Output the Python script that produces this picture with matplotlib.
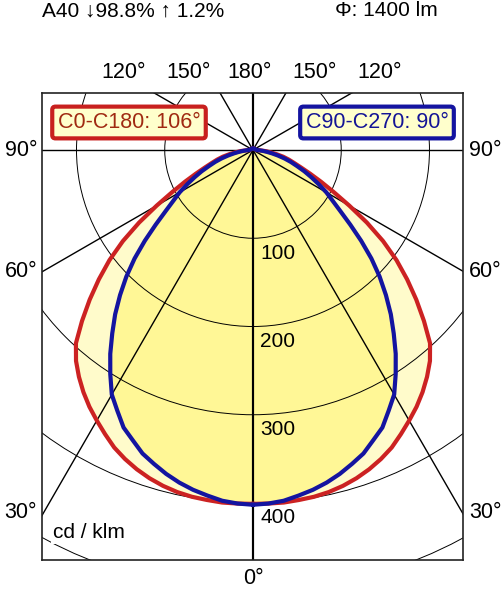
import numpy as np
import matplotlib.pyplot as plt
from matplotlib.patches import Circle

plt.rcParams['font.family'] = ['Liberation Sans', 'DejaVu Sans']

# luminous intensity, cd/klm
gamma = [0, 2.5, 5, 7.5, 10, 12.5, 15, 17.5, 20, 22.5, 25, 27.5, 30, 32.5, 35, 37.5, 40, 42.5,
         45, 47.5, 50, 52.5, 55, 57.5, 60, 62.5, 65, 67.5, 70, 72.5, 75, 77.5, 80, 82.5, 85, 87.5,
         90, 105, 120, 135, 150, 165, 180]
c0_c180 = [401, 401, 401, 400, 399, 397, 394, 390, 385, 379, 372, 363, 354, 345, 335, 324, 312, 297,
           274, 251, 228, 205, 180, 153, 126, 103, 85, 70, 58, 49, 42, 35, 27, 20, 14, 8,
           4, 3, 2, 2, 2, 2, 2]
c90_c270 = [402, 401, 399, 395, 391, 386, 380, 373, 366, 356, 347, 333, 320, 301, 282, 262, 243, 223,
            203, 182, 160, 139, 121, 107, 96, 84, 73, 63, 53, 45, 37, 29, 22, 16, 11, 7,
            4, 3, 2, 2, 2, 2, 2]
rings = [100, 200, 300, 400, 500]
ring_labels = ['100', '200', '300', '400']
spokes = [0, 30, 60, 90, 120, 150, 180]

W, H = 503, 589


def px(x, y):
    return x / W, 1 - y / H


def outline(vals):
    g = np.radians(np.array(gamma, dtype=float))
    v = np.array(vals, dtype=float)
    # right half then mirrored left half
    x = np.concatenate([v * np.sin(g), (-v * np.sin(g))[::-1]])
    y = np.concatenate([-v * np.cos(g), (-v * np.cos(g))[::-1]])
    return x, y


fig = plt.figure(figsize=(W / 100, H / 100), dpi=100)
ax = fig.add_axes([42 / W, 29 / H, 421 / W, 467 / H])
ax.set_xlim(-239.1, 238.0)
ax.set_ylim(-464.6, 64.6)
ax.set_xticks([])
ax.set_yticks([])
for s in ax.spines.values():
    s.set_linewidth(1.2)
    s.set_color('#222222')

xr, yr = outline(c0_c180)
xb, yb = outline(c90_c270)
ax.fill(xr, yr, color='#FFFBCB', lw=0, zorder=1)
ax.fill(xb, yb, color='#FFF796', lw=0, zorder=1.1)

for r in rings:
    ax.add_patch(Circle((0, 0), r, fill=False, lw=0.7, color='black', zorder=2))
for a in spokes:
    t = np.radians(a)
    lw = 1.5 if a in (0, 180) else 1.0
    for sgn in (1, -1):
        ax.plot([0, sgn * 800 * np.sin(t)], [0, -800 * np.cos(t)], color='black', lw=lw, zorder=2)

ax.plot(xr, yr, color='#CC2222', lw=3, zorder=3, solid_joinstyle='round')
ax.plot(xb, yb, color='#1414A0', lw=3, zorder=3.1, solid_joinstyle='round')

for r, lab in zip(rings, ring_labels):
    ax.text(8, -r - 17, lab, fontsize=15, ha='left', va='center', zorder=4)

ax.text(-227, -434, 'cd / klm', fontsize=15, ha='left', va='center', zorder=4,
        bbox=dict(facecolor='white', edgecolor='none', pad=1))

# angle labels around the frame
fs = 15.5
for y, lab in [(150, '90°'), (272, '60°'), (513, '30°')]:
    fig.text(*px(37, y), lab, fontsize=fs, ha='right', va='center')
    fig.text(*px(469, y), lab, fontsize=fs, ha='left', va='center')
fig.text(*px(253, 578), '0°', fontsize=fs, ha='center', va='center')
for x, lab in zip([124, 189, 250, 315, 380], ['120°', '150°', '180°', '150°', '120°']):
    fig.text(*px(x, 73), lab, fontsize=fs, ha='center', va='center')

fig.text(*px(42, 11), 'A40 ↓98.8% ↑ 1.2%', fontsize=15, ha='left', va='center')
fig.text(*px(438, 11), 'Φ: 1400 lm', fontsize=15, ha='right', va='center')

fig.text(*px(129, 122.5), 'C0-C180: 106°', fontsize=fs, color='#A02A12', ha='center', va='center',
         bbox=dict(boxstyle='round,pad=0.25,rounding_size=0.15', facecolor='#FFFFCC',
                   edgecolor='#C8201E', lw=3))
fig.text(*px(377, 122.5), 'C90-C270: 90°', fontsize=fs, color='#141496', ha='center', va='center',
         bbox=dict(boxstyle='round,pad=0.25,rounding_size=0.15', facecolor='#FFFFCC',
                   edgecolor='#1414A0', lw=3))

fig.savefig('out.png', dpi=100)
